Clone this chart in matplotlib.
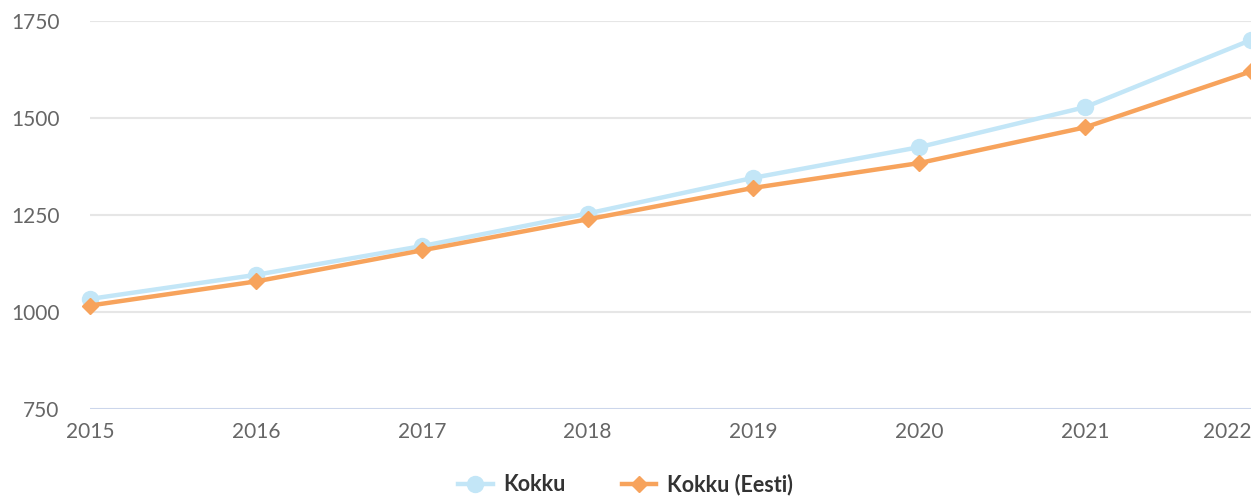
import matplotlib.pyplot as plt

# Data
years = [2015, 2016, 2017, 2018, 2019, 2020, 2021, 2022]
kokku = [1034, 1096, 1170, 1254, 1346, 1425, 1528, 1701]
kokku_eesti = [1017, 1079, 1159, 1239, 1320, 1384, 1476, 1620]
y_ticks = [750, 1000, 1250, 1500, 1750]

plt.rcParams['font.family'] = ['Lato', 'DejaVu Sans']

fig = plt.figure(figsize=(12.51, 4.99), dpi=100)
ax = fig.add_axes([0.072, 0.18, 0.928, 0.778])

ax.plot(years, kokku, color="#c3e6f7", lw=3.2, marker="o", ms=11.5,
        label="Kokku", clip_on=False, zorder=3)
ax.plot(years, kokku_eesti, color="#f7a35c", lw=3.2, marker="D", ms=8.5,
        label="Kokku (Eesti)", clip_on=False, zorder=4)

ax.set_xlim(2015, 2022)
ax.set_ylim(750, 1750)
ax.set_yticks(y_ticks)
ax.set_xticks(years)

for y in y_ticks[1:]:
    ax.axhline(y, color="#e6e6e6", lw=1.5, zorder=1)
ax.axhline(750, color="#ccd6eb", lw=1.5, zorder=1)

for s in ax.spines.values():
    s.set_visible(False)
ax.tick_params(axis="both", length=0, labelsize=15, labelcolor="#666666")
ax.tick_params(axis="y", pad=22)
ax.tick_params(axis="x", pad=9)

# last year label is pushed inside the chart, as in the original
ax.get_xticklabels()[-1].set_horizontalalignment("right")

fig.legend(loc="center", bbox_to_anchor=(0.5, 0.029), ncol=2, frameon=False,
           prop={"weight": "bold", "size": 15.5}, labelcolor="#333333",
           handlelength=1.6, handletextpad=0.5, columnspacing=2.6)

fig.savefig("out.png", dpi=100)
